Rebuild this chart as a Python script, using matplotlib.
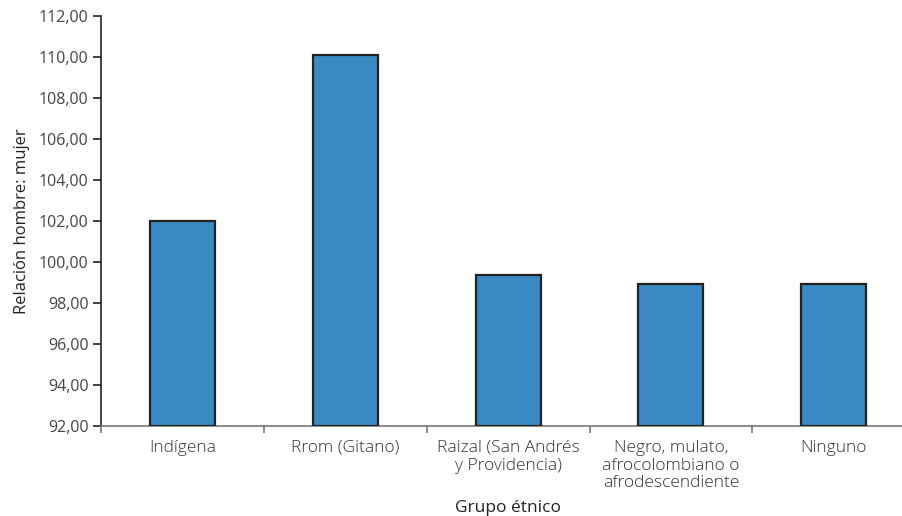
import matplotlib.pyplot as plt

plt.rcParams['font.family'] = ['Open Sans', 'DejaVu Sans']

grupos = ['Indígena', 'Rrom (Gitano)', 'Raizal (San Andrés\ny Providencia)',
          'Negro, mulato,\nafrocolombiano o\nafrodescendiente', 'Ninguno']
relacion = [102.0, 110.12, 99.38, 98.93, 98.93]
yticks = [92, 94, 96, 98, 100, 102, 104, 106, 108, 110, 112]

fig = plt.figure(figsize=(9.02, 5.16), dpi=100)
ax = fig.add_axes([0.112, 0.1744, 0.9026, 0.7945])

x = range(len(grupos))
ax.bar(x, [v - 92 for v in relacion], bottom=92, width=0.40,
       color='#3A89C2', edgecolor='#222222', linewidth=1.6, zorder=3)

ax.set_xlim(-0.5, 4.5)
ax.set_ylim(92, 112)
ax.set_yticks(yticks)
ax.set_yticklabels([('%.2f' % t).replace('.', ',') for t in yticks])

# ticks between categories, labels centred under bars
ax.set_xticks([i + 0.5 for i in range(-1, 5)])
ax.set_xticklabels([])
ax.set_xticks(list(x), minor=True)
ax.set_xticklabels(grupos, minor=True, fontsize=12.5, color='#333333',
                   linespacing=1.15, fontweight='light')
ax.tick_params(axis='x', which='minor', length=0, pad=10)
ax.tick_params(axis='x', which='major', length=5, color='#777777', width=1.2)
ax.tick_params(axis='y', length=6, color='#222222', width=1.2,
               labelsize=11.5, labelcolor='#444444', pad=3)

for s in ['top', 'right']:
    ax.spines[s].set_visible(False)
ax.spines['left'].set_color('#222222')
ax.spines['left'].set_linewidth(1.2)
ax.spines['bottom'].set_color('#777777')
ax.spines['bottom'].set_linewidth(1.2)

ax.set_ylabel('Relación hombre: mujer', fontsize=12, color='#222222', labelpad=6)
ax.set_xlabel('Grupo étnico', fontsize=12.5, color='#222222', labelpad=6)

fig.savefig('out.png', dpi=100)
